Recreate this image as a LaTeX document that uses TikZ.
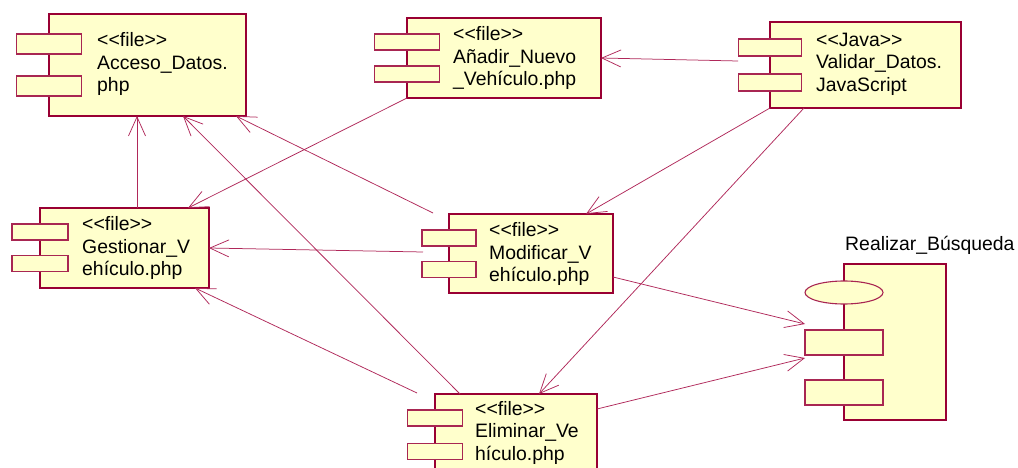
\documentclass[tikz,border=0pt]{standalone}
\usepackage{fontspec}
\setmainfont{Liberation Sans}
\usetikzlibrary{calc, arrows.meta, shapes.geometric}
\definecolor{roseFill}{RGB}{255,255,204}
\definecolor{roseLine}{RGB}{153,0,51}
\definecolor{roseDep}{RGB}{176,40,90}

\begin{document}
\begin{tikzpicture}[x=1pt, y=-1pt,
  comp/.style={draw=roseLine, fill=roseFill, line width=1.4pt, inner sep=0pt, outer sep=0pt, anchor=north west},
  tab/.style={draw=roseLine!85!white, fill=roseFill, line width=1.1pt, inner sep=0pt, outer sep=0pt},
  lbl/.style={anchor=west, align=left, inner sep=0pt, font=\fontsize{19.4}{22.5}\selectfont},
  dep/.style={draw=roseDep, line width=0.75pt, -{Straight Barb[length=19pt,width=17pt]}}]
\useasboundingbox (0,0) rectangle (1018,468);
\fill[white] (0,0) rectangle (1018,468);
\clip (0,0) rectangle (1018,468);

% components
\node[comp, minimum width=197pt, minimum height=102pt](acceso)at(49,14){};
\node[tab, minimum width=65pt, minimum height=20pt](acceso1)at($(acceso.north west)+(0,30)$){};
\node[tab, minimum width=65pt, minimum height=20pt](acceso2)at($(acceso.north west)+(0,72)$){};
\node[lbl](accesoT)at($(acceso.west)+(48,-1)$){<\kern0pt<file>\kern0pt>\\Acceso\_Datos.\\php};

\node[comp, minimum width=194pt, minimum height=80pt](anadir)at(407,18){};
\node[tab, minimum width=65pt, minimum height=16pt](anadir1)at($(anadir.north west)+(0,24)$){};
\node[tab, minimum width=65pt, minimum height=16pt](anadir2)at($(anadir.north west)+(0,56)$){};
\node[lbl](anadirT)at($(anadir.west)+(46,0)$){<\kern0pt<file>\kern0pt>\\Añadir\_Nuevo\\\_Vehículo.php};

\node[comp, minimum width=191pt, minimum height=86pt](validar)at(770,22){};
\node[tab, minimum width=63pt, minimum height=17pt](validar1)at($(validar.north west)+(0,25.5)$){};
\node[tab, minimum width=63pt, minimum height=17pt](validar2)at($(validar.north west)+(0,60.5)$){};
\node[lbl](validarT)at($(validar.west)+(46,-1)$){<\kern0pt<Java>\kern0pt>\\Validar\_Datos.\\JavaScript};

\node[comp, minimum width=169pt, minimum height=80pt](gestion)at(40,208){};
\node[tab, minimum width=56pt, minimum height=16pt](gestion1)at($(gestion.north west)+(0,24)$){};
\node[tab, minimum width=56pt, minimum height=16pt](gestion2)at($(gestion.north west)+(0,55.5)$){};
\node[lbl](gestionT)at($(gestion.west)+(42,0)$){<\kern0pt<file>\kern0pt>\\Gestionar\_V\\ehículo.php};

\node[comp, minimum width=164pt, minimum height=79pt](modif)at(449,214){};
\node[tab, minimum width=54pt, minimum height=16pt](modif1)at($(modif.north west)+(0,24)$){};
\node[tab, minimum width=54pt, minimum height=16pt](modif2)at($(modif.north west)+(0,55.5)$){};
\node[lbl](modifT)at($(modif.west)+(40,0.5)$){<\kern0pt<file>\kern0pt>\\Modificar\_V\\ehículo.php};

\node[comp, minimum width=162pt, minimum height=80pt](elimin)at(435,394){};
\node[tab, minimum width=55pt, minimum height=16pt](elimin1)at($(elimin.north west)+(0,24)$){};
\node[tab, minimum width=55pt, minimum height=16pt](elimin2)at($(elimin.north west)+(0,57.5)$){};
\node[lbl](eliminT)at($(elimin.west)+(40,-1.5)$){<\kern0pt<file>\kern0pt>\\Eliminar\_Ve\\hículo.php};

% interface
\node[comp, minimum width=102pt, minimum height=156pt](busq)at(844,264){};
\node[tab, ellipse, minimum width=78pt, minimum height=23pt](busq0)at($(busq.north west)+(0,28.5)$){};
\node[tab, minimum width=78pt, minimum height=25pt](busq1)at($(busq.north west)+(0,78.5)$){};
\node[tab, minimum width=78pt, minimum height=25pt](busq2)at($(busq.north west)+(0,128.5)$){};
\node[lbl, anchor=base west](busqT)at($(busq.north west)+(1,-14)$){Realizar\_Búsqueda};

% dependencies
\draw[dep] ($(validar.west)+(-32,-4)$) -- (anadir.east);
\draw[dep] (anadir.south west) -- ($(gestion.north east)+(-21,0)$);
\draw[dep] (validar.south west) -- ($(modif.north east)+(-27,0)$);
\draw[dep] ($(validar.south west)+(34,0)$) -- ($(elimin.north)+(23,0)$);
\draw[dep] ($(modif.west)+(-26,-1.5)$) -- (gestion.east);
\draw[dep] ($(modif.north west)+(-16,-1)$) -- ($(acceso.south east)+(-10,0)$);
\draw[dep] ($(modif.south east)+(0,-16)$) -- ($(busq1.north west)+(0,-6)$);
\draw[dep] ($(elimin.north east)+(0,15)$) -- ($(busq1.south west)+(0,3)$);
\draw[dep] ($(elimin.north west)+(-18,-1)$) -- ($(gestion.south east)+(-14,0)$);
\draw[dep] ($(elimin.north west)+(25,0)$) -- ($(acceso.south)+(35.5,0)$);
\draw[dep] ($(gestion.north)+(12.5,0)$) -- ($(acceso.south)+(-10.5,0)$);
\end{tikzpicture}
\end{document}
